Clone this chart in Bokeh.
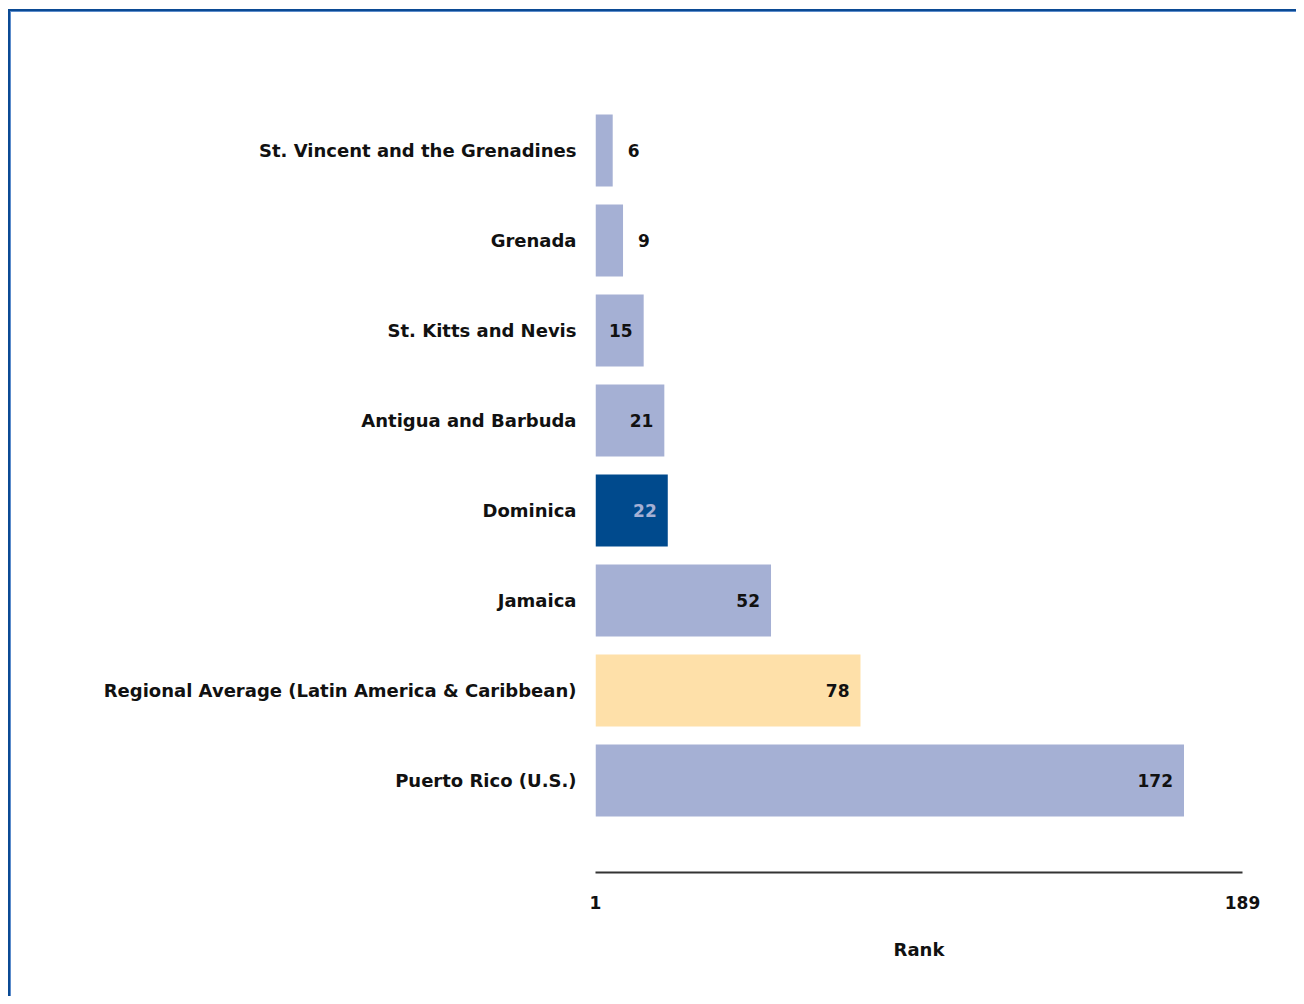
from bokeh.plotting import figure
from bokeh.models import Range1d, FixedTicker, ColumnDataSource
from bokeh.core.properties import value
from bokeh.embed import file_html
from bokeh.resources import INLINE

countries = [
    "St. Vincent and the Grenadines",
    "Grenada",
    "St. Kitts and Nevis",
    "Antigua and Barbuda",
    "Dominica",
    "Jamaica",
    "Regional Average (Latin America & Caribbean)",
    "Puerto Rico (U.S.)",
]
ranks = [6, 9, 15, 21, 22, 52, 78, 172]
axis_min = 1
axis_max = 189
axis_title = "Rank"

LIGHT = "#a5b0d4"
DARK = "#004a8d"
PEACH = "#fee0a9"
FONT = "DejaVu Sans"

n = len(countries)
ypos = [n - 1 - i for i in range(n)]
bar_colors = [DARK if c == "Dominica" else PEACH if c.startswith("Regional") else LIGHT for c in countries]
label_colors = [LIGHT if c == "Dominica" else "#111111" for c in countries]
inside = [r >= 15 for r in ranks]
label_offsets = [-11 if ins else 15 for ins in inside]
label_align = ["right" if ins else "left" for ins in inside]

src = ColumnDataSource(dict(
    y=ypos, rank=ranks, left=[axis_min] * n, color=bar_colors,
    lcolor=label_colors, xoff=label_offsets, align=label_align,
    txt=[str(r) for r in ranks],
))

frame_bg = (
    "linear-gradient(#0b4a94, #0b4a94) 8px 9px / 3000px 2px no-repeat, "
    "linear-gradient(#5c8ccb, #5c8ccb) 10px 11px / 3000px 1px no-repeat, "
    "linear-gradient(#0b4a94, #0b4a94) 8px 9px / 2px 3000px no-repeat, "
    "linear-gradient(#5c8ccb, #5c8ccb) 10px 11px / 1px 3000px no-repeat, "
    "white"
)

p = figure(
    width=1296, height=996,
    x_range=Range1d(axis_min, axis_max),
    y_range=Range1d(-1.022, 8.0),
    output_backend="svg", toolbar_location=None,
    min_border_left=595, min_border_right=54,
    min_border_top=60, min_border_bottom=124,
    styles={"background": frame_bg},
)
p.outline_line_color = None
p.grid.visible = False
p.background_fill_color = "white"
p.border_fill_color = None

p.hbar(y="y", left="left", right="rank", height=0.8, color="color", line_color=None, source=src)
p.text(x="rank", y="y", text="txt", x_offset="xoff", text_align="align",
       text_baseline="middle", text_color="lcolor", text_font=value(FONT),
       text_font_size="17px", text_font_style="bold", source=src)

xa = p.xaxis[0]
xa.ticker = FixedTicker(ticks=[axis_min, axis_max])
xa.axis_line_color = "#333333"
xa.axis_line_width = 2
xa.major_tick_line_color = None
xa.minor_tick_line_color = None
xa.major_label_standoff = 17
xa.major_label_text_font = FONT
xa.major_label_text_font_style = "bold"
xa.major_label_text_font_size = "17px"
xa.major_label_text_color = "#111111"
xa.axis_label = axis_title
xa.axis_label_standoff = 27
xa.axis_label_text_font = FONT
xa.axis_label_text_font_style = "bold"
xa.axis_label_text_font_size = "18px"
xa.axis_label_text_color = "#111111"

ya = p.yaxis[0]
ya.ticker = FixedTicker(ticks=ypos)
ya.major_label_overrides = {y: c for y, c in zip(ypos, countries)}
ya.axis_line_color = None
ya.major_tick_line_color = None
ya.minor_tick_line_color = None
ya.major_tick_out = 0
ya.major_label_standoff = 19
ya.major_label_text_font = FONT
ya.major_label_text_font_style = "bold"
ya.major_label_text_font_size = "18px"
ya.major_label_text_color = "#111111"

open("out.html", "w").write(file_html(p, INLINE))
